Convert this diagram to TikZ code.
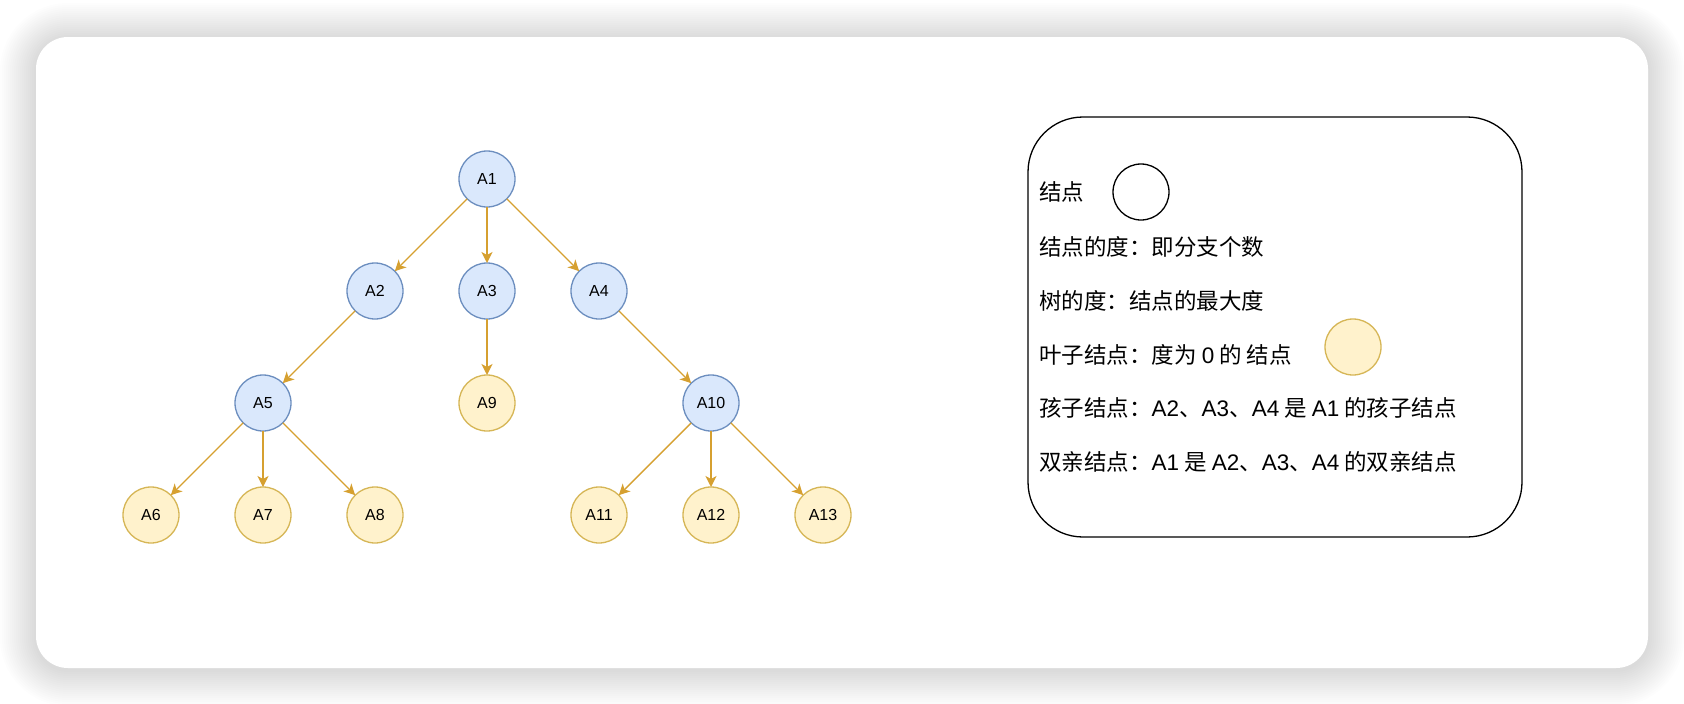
\documentclass[tikz,border=0pt]{standalone}
\usepackage{fontspec}
\setmainfont{Liberation Sans}
\newfontfamily\cjk{Noto Sans CJK SC}
\newfontfamily\latf{Liberation Sans}
\usetikzlibrary{arrows.meta}
\definecolor{bluefill}{HTML}{DAE8FC}
\definecolor{bluedraw}{HTML}{6C8EBF}
\definecolor{yelfill}{HTML}{FFF2CC}
\definecolor{yeldraw}{HTML}{D6B656}
\definecolor{edgecol}{HTML}{D6A030}
\newcommand\lt[1]{{\latf #1}}
\tikzset{
  inner/.style={circle,draw=bluedraw,fill=bluefill,line width=1.3pt,minimum size=56pt,inner sep=0pt,outer sep=0pt,font=\fontsize{16}{18}\selectfont},
  leaf/.style={circle,draw=yeldraw,fill=yelfill,line width=1.3pt,minimum size=56pt,inner sep=0pt,outer sep=0pt,font=\fontsize{16}{18}\selectfont},
  edge/.style={draw=edgecol,line width=1.4pt,-{Stealth[length=11pt,width=11pt,inset=3pt]}},
  legtext/.style={anchor=west,inner sep=0pt,font=\cjk\fontsize{22.5}{24}\selectfont},
}
\begin{document}
\begin{tikzpicture}[x=1pt,y=-1pt]
\useasboundingbox (0,0) rectangle (1684,704);
% shadow
\foreach \i in {1,...,18}{
  \fill[black,opacity=0.009,rounded corners={32pt+2*\i pt}] (36-2*\i,39-2*\i) rectangle (1648+2*\i,670+2*\i);
}
% card
\fill[white,rounded corners=32pt] (36,37) rectangle (1648,668);
% tree
\node[inner] (A1) at (487,179) {A1};
\node[inner] (A2) at (375,291) {A2};
\node[inner] (A3) at (487,291) {A3};
\node[inner] (A4) at (599,291) {A4};
\node[inner] (A5) at (263,403) {A5};
\node[leaf] (A9) at (487,403) {A9};
\node[inner] (A10) at (711,403) {A10};
\node[leaf] (A6) at (151,515) {A6};
\node[leaf] (A7) at (263,515) {A7};
\node[leaf] (A8) at (375,515) {A8};
\node[leaf] (A11) at (599,515) {A11};
\node[leaf] (A12) at (711,515) {A12};
\node[leaf] (A13) at (823,515) {A13};
\foreach \a/\b in {A1/A2,A1/A3,A1/A4,A2/A5,A3/A9,A4/A10,A5/A6,A5/A7,A5/A8,A10/A11,A10/A12,A10/A13}
  \draw[edge] (\a) -- (\b);
% legend
\draw[black,line width=1.3pt,rounded corners=55pt] (1028,117) rectangle (1522,537);
\node[legtext] (t1) at (1039,192) {结点};
\node[circle,draw=black,fill=white,line width=1.3pt,minimum size=56pt,inner sep=0pt] (wc) at (1141,192) {};
\node[legtext] (t2) at (1039,247) {结点的度：即分支个数};
\node[legtext] (t3) at (1039,301) {树的度：结点的最大度};
\node[legtext] (t4) at (1039,355) {叶子结点：度为 \lt{0} 的 结点};
\node[circle,draw=yeldraw,fill=yelfill,line width=1.3pt,minimum size=56pt,inner sep=0pt] (yc) at (1353,347) {};
\node[legtext] (t5) at (1039,408) {孩子结点：\lt{A2}、\lt{A3}、\lt{A4} 是 \lt{A1} 的孩子结点};
\node[legtext] (t6) at (1039,462) {双亲结点：\lt{A1} 是 \lt{A2}、\lt{A3}、\lt{A4} 的双亲结点};
\end{tikzpicture}
\end{document}
